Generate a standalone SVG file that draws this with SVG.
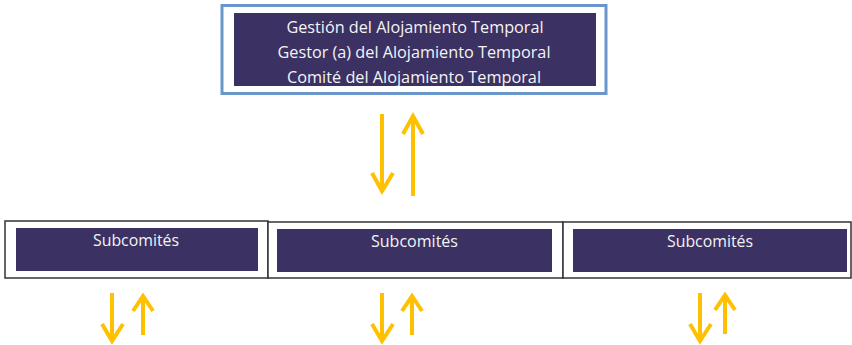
<svg xmlns="http://www.w3.org/2000/svg" width="852" height="345" viewBox="0 0 852 345">
<style>
.dark{fill:#3b3163}
.frame{fill:#fff;stroke:#333;stroke-width:1.5}
.t{font-family:"Open Sans","Liberation Sans",Arial,sans-serif;font-size:16px;fill:#f4f4f4;text-anchor:middle}
.arr{stroke:#ffc000;stroke-width:4;fill:none;stroke-linecap:butt;stroke-linejoin:miter}
</style>
<defs>
<clipPath id="topclip"><rect x="234" y="13" width="362" height="73"/></clipPath>
</defs>
<rect width="852" height="345" fill="#fff"/>
<g id="top">
<rect x="222" y="5.5" width="384" height="88" fill="#fff" stroke="#6a97cb" stroke-width="3"/>
<rect class="dark" x="234" y="13" width="362" height="73"/>
<g clip-path="url(#topclip)">
<text class="t" x="415" y="33" textLength="257" lengthAdjust="spacingAndGlyphs">Gestión del Alojamiento Temporal</text>
<text class="t" x="414" y="58" textLength="273" lengthAdjust="spacingAndGlyphs">Gestor (a) del Alojamiento Temporal</text>
<text class="t" x="414" y="83" textLength="254" lengthAdjust="spacingAndGlyphs">Comité del Alojamiento Temporal</text>
</g>
</g>
<g id="sub1">
<rect class="frame" x="5" y="221" width="263" height="57"/>
<rect class="dark" x="16" y="228" width="242" height="43"/>
<text class="t" x="136" y="246" textLength="86" lengthAdjust="spacingAndGlyphs">Subcomités</text>
</g>
<g id="sub2">
<rect class="frame" x="268" y="222" width="295" height="56"/>
<rect class="dark" x="277" y="229" width="275" height="43"/>
<text class="t" x="414.5" y="247" textLength="87" lengthAdjust="spacingAndGlyphs">Subcomités</text>
</g>
<g id="sub3">
<rect class="frame" x="563" y="222" width="288" height="56"/>
<rect class="dark" x="573" y="229" width="274" height="43"/>
<text class="t" x="710" y="247" textLength="86" lengthAdjust="spacingAndGlyphs">Subcomités</text>
</g>
<g id="connectors">
<path class="arr" d="M382 114V192M372 173L382 191L393 173"/>
<path class="arr" d="M413 196V116M403 134L413 116L423 134"/>
<path class="arr" d="M112 293V341M102 324L112 341L123 324"/>
<path class="arr" d="M143 335V296M133 311L143 296L153 311"/>
<path class="arr" d="M382 293V341M372 324L382 341L393 324"/>
<path class="arr" d="M412 335V296M402 311L412 296L422 311"/>
<path class="arr" d="M700 293V341M690 324L700 341L711 324"/>
<path class="arr" d="M725 334V295M715 310L725 295L735 310"/>
</g>
</svg>
